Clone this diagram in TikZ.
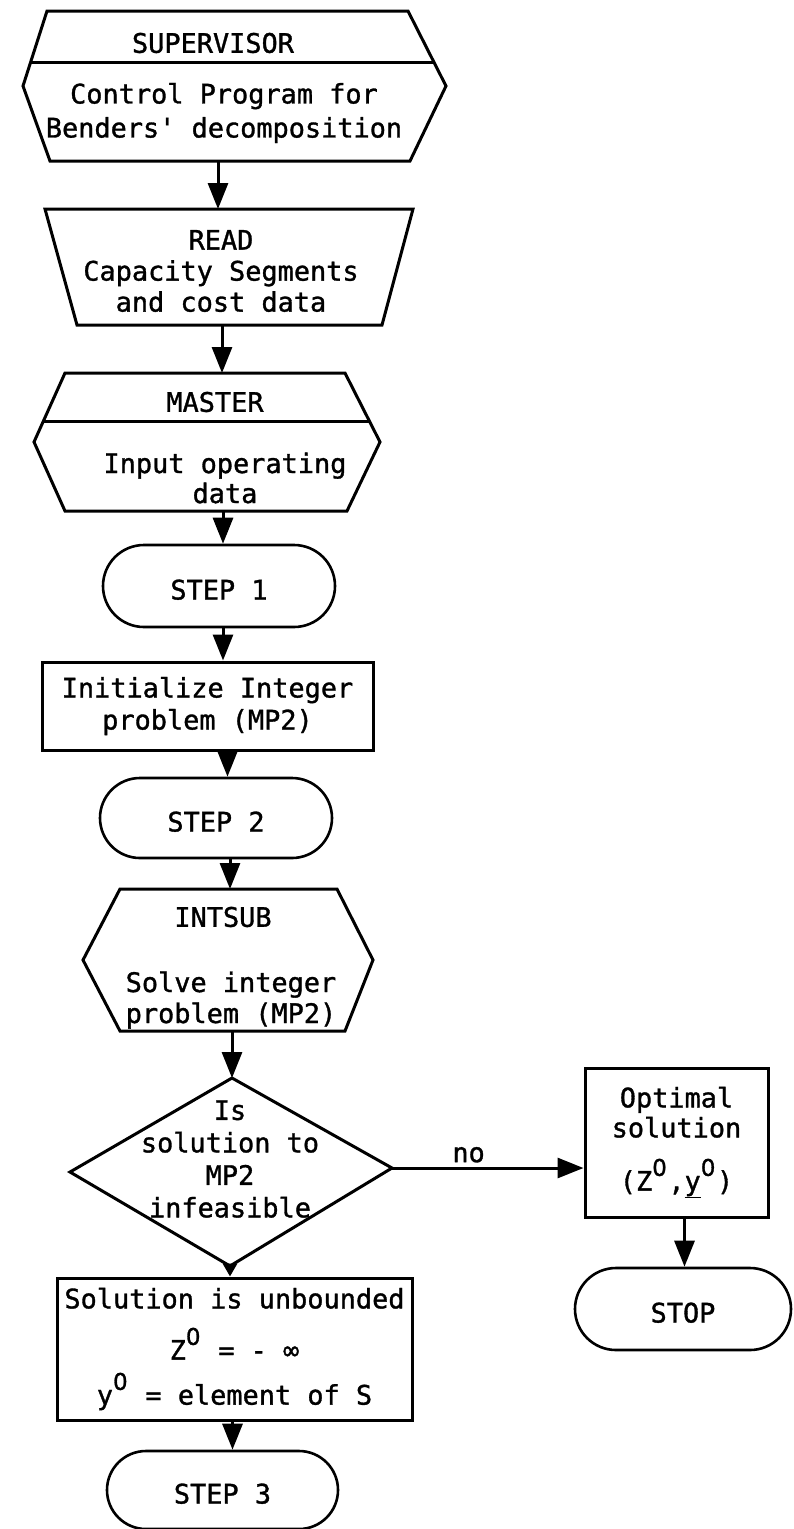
\documentclass[tikz,border=0pt]{standalone}
\usepackage{fontspec}
\newfontfamily\monof{DejaVu Sans Mono}[FakeBold=1.2]
\newfontfamily\zerof{DejaVu Sans}[FakeBold=1.2]
\usetikzlibrary{arrows.meta,shapes.misc}
\newcommand\upz{\makebox[0.602em][l]{\raisebox{0.55em}{\zerof\fontsize{23}{23}\selectfont 0}}}
\tikzset{
  every node/.style={font=\monof\fontsize{26.9}{32}\selectfont, inner sep=0pt},
  outl/.style={line width=3pt, line join=miter},
  arr/.style={line width=3pt, -{Triangle[length=26pt,width=20pt]}},
  smallarr/.style={line width=3pt, -{Triangle[length=13pt,width=14pt]}},
  terminal/.style={draw, line width=2.6pt, rounded rectangle, minimum width=232pt, minimum height=82pt, text height=27pt, text depth=0pt},
  procbox/.style={draw, line width=3pt, rectangle, align=center},
}
\begin{document}
\begin{tikzpicture}[x=1pt,y=-1pt]
\useasboundingbox (0,0) rectangle (793,1529);
% SUPERVISOR
\draw[outl] (47,11) -- (408,11) -- (446,86) -- (410,161) -- (50,161) -- (23,86) -- cycle;
\draw[outl] (31,62) -- (434,62);
\node (supT) at (213,43) {SUPERVISOR};
\node[align=center] (supB) at (224,113) {Control Program for\\[2pt]Benders' decomposition};
\coordinate (supS) at (218,161);
% READ
\draw[outl] (45,209) -- (413,209) -- (382,325) -- (77,325) -- cycle;
\node[align=center,font=\monof\fontsize{26.9}{31}\selectfont] (read) at (221,271) {READ\\Capacity Segments\\and cost data};
\coordinate (readN) at (218,209);
\coordinate (readS) at (222,325);
% MASTER
\draw[outl] (65,373) -- (345,373) -- (380,442) -- (347,511) -- (65,511) -- (34,442) -- cycle;
\draw[outl] (43,421) -- (369,421);
\node (masT) at (215,402) {MASTER};
\node[align=center,font=\monof\fontsize{26.9}{30}\selectfont] (masB) at (225,478) {Input operating\\data};
\coordinate (masN) at (222,373);
\coordinate (masS) at (223,511);
% STEP 1
\node[terminal] (s1) at (219,586) {STEP 1};
% Initialize
\node[procbox, minimum width=331pt, minimum height=88pt] (init) at (207.5,706) {Initialize Integer\\problem (MP2)};
% STEP 2
\node[terminal, minimum height=80pt] (s2) at (216,818) {STEP 2};
% INTSUB
\draw[outl] (120,889) -- (337,889) -- (373,960) -- (345,1031) -- (120,1031) -- (83,960) -- cycle;
\node (intT) at (223,917) {INTSUB};
\node[align=center,font=\monof\fontsize{26.9}{31}\selectfont] (intB) at (231,1000) {Solve integer\\problem (MP2)};
\coordinate (intN) at (230,889);
\coordinate (intS) at (232,1031);
% decision
\coordinate (dT) at (232,1078);
\coordinate (dR) at (392,1168);
\coordinate (dB) at (230,1266);
\coordinate (dL) at (70,1172);
\draw[outl] (dT) -- (dR) -- (dB) -- (dL) -- cycle;
\node[align=center,font=\monof\fontsize{26.9}{32.5}\selectfont] (q) at (230,1159) {Is\\solution to\\MP2\\infeasible};
% Optimal
\node[procbox, minimum width=183pt, minimum height=149pt, font=\monof\fontsize{26.9}{30}\selectfont] (opt) at (676.5,1142.5) {Optimal\\solution\\[20pt](Z\upz,\underline{y}\upz)};
% STOP
\node[terminal, minimum width=216pt, minimum height=82pt] (stop) at (683,1309) {STOP};
% unbounded
\node[procbox, minimum width=355pt, minimum height=142pt] (unb) at (234.5,1349) {Solution is unbounded\\[18pt]Z\upz{} = - ∞\\[13pt]y\upz{} = element of S};
% STEP 3
\node[terminal, minimum width=231pt, minimum height=78pt] (s3) at (222.5,1490) {STEP 3};
% connectors
\draw[arr] (supS) -- (readN);
\draw[arr] (readS) -- (masN);
\draw[arr] (masS) -- (masS |- s1.north);
\draw[arr] ([xshift=4pt]s1.south) -- ([xshift=4pt]s1.south |- init.north);
\draw[arr] ([xshift=20pt]init.south) -- ([xshift=20pt]init.south |- s2.north);
\draw[arr] (intN |- s2.south) -- (intN);
\draw[arr] (intS) -- (dT);
\draw[smallarr] (dB) -- (dB |- unb.north);
\draw[arr] (dR) -- (dR -| opt.west) node[pos=0.4, above=4pt] {no};
\draw[arr] ([xshift=8pt]opt.south) -- ([xshift=8pt]opt.south |- stop.north);
\draw[arr] ([xshift=-2pt]unb.south) -- ([xshift=-2pt]unb.south |- s3.north);
\end{tikzpicture}
\end{document}
